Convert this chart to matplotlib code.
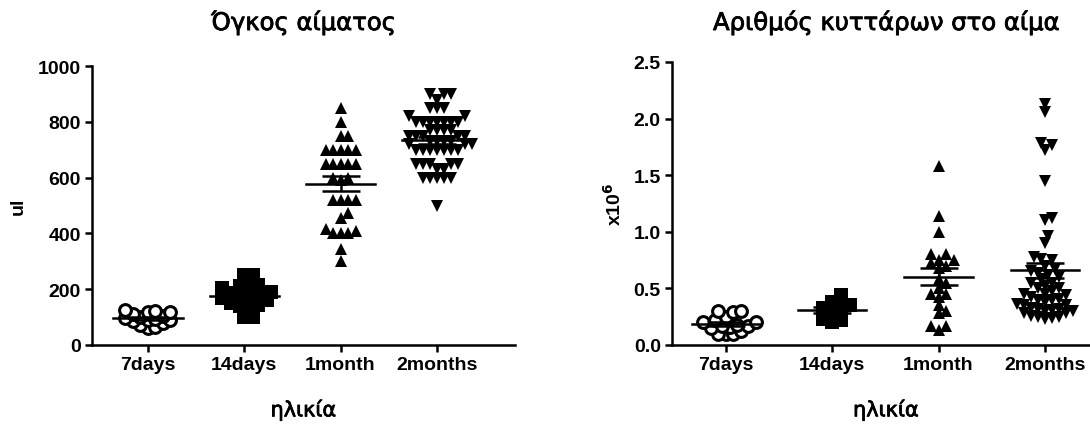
import numpy as np
import matplotlib.pyplot as plt
import matplotlib.patheffects as pe

# Ηλικιακές ομάδες
groups = ["7days", "14days", "1month", "2months"]

# Όγκος αίματος (ul)
vol_7d = [125, 122, 120, 118, 112, 105, 100, 98, 95, 90, 88, 85, 78, 72,
          65, 62]
vol_14d = [250, 250, 215, 210, 205, 200, 190, 185, 180, 175, 170, 165, 160,
           150, 145, 140, 130, 100, 100]
vol_1m = [850, 800, 750, 750, 700, 700, 700, 700, 700, 650, 650, 650, 650,
          650, 600, 600, 590, 520, 520, 520, 520, 475, 455, 400, 400, 400,
          410, 415, 345, 300]
vol_2m = [900, 900, 900, 880, 850, 850, 850, 820, 820, 800, 800, 800, 800,
          800, 800, 800, 770, 770, 770, 770, 750, 750, 750, 750, 750, 730,
          730, 730, 730, 720, 720, 720, 700, 700, 700, 700, 700, 700, 700,
          650, 650, 650, 650, 650, 630, 630, 600, 600, 600, 600, 600, 500]

# Αριθμός κυττάρων (x10^6)
cells_7d = [0.30, 0.29, 0.30, 0.25, 0.22, 0.20, 0.20, 0.18, 0.17, 0.17,
            0.16, 0.15, 0.12, 0.10, 0.10, 0.10]
cells_14d = [0.44, 0.38, 0.35, 0.33, 0.32, 0.30, 0.23, 0.22, 0.20]
cells_1m = [1.58, 1.14, 1.00, 0.80, 0.80, 0.75, 0.75, 0.72, 0.70, 0.68,
            0.58, 0.55, 0.50, 0.45, 0.45, 0.42, 0.35, 0.30, 0.28, 0.17,
            0.17, 0.13]
cells_2m = [2.13, 2.06, 1.78, 1.77, 1.72, 1.45, 1.12, 1.10, 0.96, 0.90,
            0.78, 0.76, 0.75, 0.70, 0.67, 0.65, 0.64, 0.62, 0.60, 0.58,
            0.55, 0.52, 0.50, 0.48, 0.45, 0.44, 0.42, 0.41, 0.40, 0.38,
            0.36, 0.35, 0.33, 0.32, 0.31, 0.30, 0.28, 0.26, 0.25, 0.24,
            0.23, 0.30, 0.32, 0.35, 0.28, 0.40, 0.45, 0.50, 0.55, 0.25]

markers = [
    dict(marker="o", ms=8.5, mfc="white", mec="black", mew=2.2),
    dict(marker="s", ms=9.5, mfc="black", mec="black", mew=0),
    dict(marker="^", ms=8.5, mfc="black", mec="black", mew=0),
    dict(marker="v", ms=8.5, mfc="black", mec="black", mew=0),
]
# ελάχιστη απόσταση κέντρων (px) ανά σύμβολο
min_dist = [7.5, 9, 7.5, 7]

BOLD = dict(family="Liberation Sans", weight="bold")
HEAD = dict(family="DejaVu Sans",
            path_effects=[pe.withStroke(linewidth=0.6, foreground="black")])


def swarm(vals, sx, sy, dmin):
    # beeswarm: κάθε σημείο πάει στην πιο κοντινή ελεύθερη θέση δίπλα στο κέντρο
    vals = np.sort(np.asarray(vals, dtype=float))
    step = dmin / 2
    placed = []
    offs = []
    for v in vals:
        y = v * sy
        k = 0
        while True:
            for x in ([0.0] if k == 0 else [k * step, -k * step]):
                if all((x - px) ** 2 + (y - py) ** 2 >= dmin ** 2
                       for px, py in placed):
                    break
            else:
                k += 1
                continue
            break
        placed.append((x, y))
        offs.append(x / sx)
    return vals, np.array(offs)


def scatter_panel(ax, data, half_w, cap):
    xr = ax.get_xlim()
    yr = ax.get_ylim()
    sx = ax.bbox.width / (xr[1] - xr[0])
    sy = ax.bbox.height / (yr[1] - yr[0])
    for i, vals in enumerate(data):
        v, o = swarm(vals, sx, sy, min_dist[i])
        ax.plot(i + o, v, ls="none", zorder=3, **markers[i])
        m = np.mean(vals)
        se = np.std(vals, ddof=1) / np.sqrt(len(vals))
        ax.plot([i - half_w, i + half_w], [m, m], color="black", lw=1.8, zorder=4)
        ax.errorbar(i, m, yerr=se, color="black", lw=1.8, capsize=cap,
                    capthick=1.8, zorder=4)
    ax.set_xticks(range(len(groups)))
    ax.set_xticklabels(groups, fontsize=14, **BOLD)
    for s in ["top", "right"]:
        ax.spines[s].set_visible(False)
    for s in ["left", "bottom"]:
        ax.spines[s].set_linewidth(1.8)
    ax.tick_params(width=1.8, length=5, pad=3)


fig = plt.figure(figsize=(10.9, 4.27), dpi=100)

ax1 = fig.add_axes([0.0844, 0.1897, 0.388, 0.653])
ax1.set_xlim(-0.58, 3.81)
ax1.set_ylim(0, 1000)
scatter_panel(ax1, [vol_7d, vol_14d, vol_1m, vol_2m], 0.36, 14)
ax1.set_yticks(range(0, 1001, 200))
ax1.set_yticklabels([str(t) for t in range(0, 1001, 200)], fontsize=14, **BOLD)
ax1.set_title("Όγκος αίματος", fontsize=17.5, pad=26, **HEAD)
ax1.set_ylabel("ul", fontsize=14, **BOLD)
ax1.yaxis.set_label_coords(-0.155, 0.5)
ax1.set_xlabel("ηλικία", fontsize=15, **HEAD)
ax1.xaxis.set_label_coords(0.5, -0.195)

ax2 = fig.add_axes([0.6165, 0.1897, 0.3927, 0.6628])
ax2.set_xlim(-0.508, 3.52)
ax2.set_ylim(0, 2.5)
scatter_panel(ax2, [cells_7d, cells_14d, cells_1m, cells_2m], 0.32, 14)
ticks = np.arange(0, 2.51, 0.5)
ax2.set_yticks(ticks)
ax2.set_yticklabels([f"{t:.1f}" for t in ticks], fontsize=14, **BOLD)
ax2.set_title("Αριθμός κυττάρων στο αίμα", fontsize=17.5, pad=23, **HEAD)
ax2.set_ylabel(r"x10$^{\mathbf{6}}$", fontsize=14, **BOLD)
ax2.yaxis.set_label_coords(-0.11, 0.5)
ax2.set_xlabel("ηλικία", fontsize=15, **HEAD)
ax2.xaxis.set_label_coords(0.5, -0.192)

fig.savefig("out.png", dpi=100)
